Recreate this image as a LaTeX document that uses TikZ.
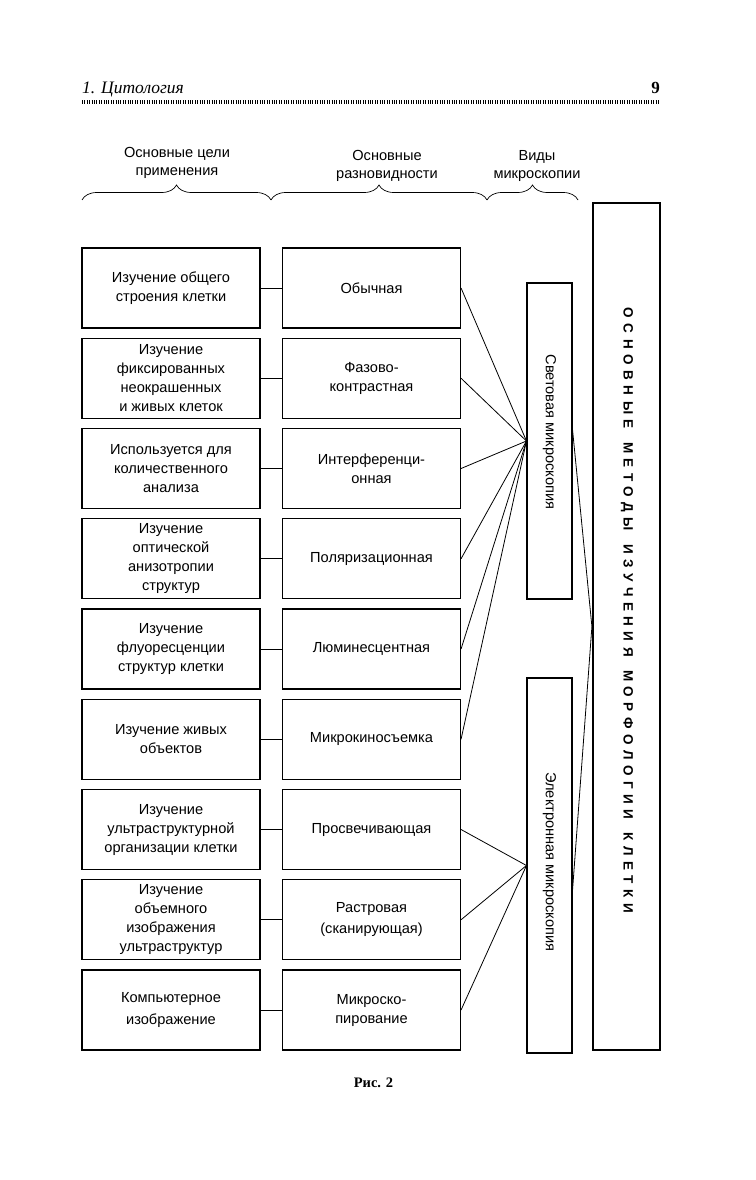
\documentclass[tikz,border=0pt]{standalone}
\usepackage{fontspec}
\setmainfont{Liberation Sans}
\newfontfamily\serifhdr{Liberation Serif}
\newfontfamily\spacedsans[LetterSpace=41]{Liberation Sans}
\usetikzlibrary{calc,decorations.pathreplacing}
\begin{document}
\begin{tikzpicture}[x=1pt,y=-1pt,
  box/.style={draw, line width=1.1pt, minimum width=178pt, minimum height=80pt, align=center, font=\fontsize{14.6}{19}\selectfont, inner sep=1pt},
  vbox/.style={draw, line width=1.1pt, minimum width=45pt, inner sep=0pt},
  conn/.style={line width=0.8pt},
  lbl/.style={align=center, font=\fontsize{14.6}{18}\selectfont},
  vtext/.style={rotate=-90, font=\fontsize{14.6}{16}\selectfont},
  brc/.style={decorate, decoration={brace, amplitude=15pt}, line width=0.7pt}]
\fill[white] (0,0) rectangle (755,1180);
\useasboundingbox (0,0) rectangle (755,1180);
% header
\node[anchor=base west, font=\serifhdr\itshape\fontsize{17.5}{17.5}\selectfont, inner sep=0] (chap) at (82,94) {1. Цитология};
\node[anchor=base east, font=\serifhdr\bfseries\fontsize{17}{17}\selectfont, inner sep=0] (pg) at (660,94) {9};
\draw[line width=4.5pt, dash pattern=on 1pt off 1.4pt] (82,102) -- (660,102);
% column labels
\node[lbl] (l1) at (177,163) {Основные цели\\применения};
\node[lbl] (l2) at (387,166) {Основные\\разновидности};
\node[lbl] (l3) at (537,166) {Виды\\микроскопии};
\draw[brc] (82,200) -- (271,200);
\draw[brc] (271,200) -- (487,200);
\draw[brc] (487,200) -- (578,200);
% left boxes
\node[box] (a1) at (171,288) {Изучение общего\\строения клетки};
\node[box] (a2) at (171,378.25) {Изучение\\фиксированных\\неокрашенных\\и живых клеток};
\node[box] (a3) at (171,468.5) {Используется для\\количественного\\анализа};
\node[box] (a4) at (171,558.75) {Изучение\\оптической\\анизотропии\\структур};
\node[box] (a5) at (171,649) {Изучение\\флуоресценции\\структур клетки};
\node[box] (a6) at (171,739.25) {Изучение живых\\объектов};
\node[box] (a7) at (171,829.5) {Изучение\\ультраструктурной\\организации клетки};
\node[box] (a8) at (171,919.75) {Изучение\\объемного\\изображения\\ультраструктур};
\node[box] (a9) at (171,1010) {Компьютерное\\[3pt]изображение};
% middle boxes
\node[box] (b1) at (371.5,288) {Обычная};
\node[box] (b2) at (371.5,378.25) {Фазово-\\контрастная};
\node[box] (b3) at (371.5,468.5) {Интерференци-\\онная};
\node[box] (b4) at (371.5,558.75) {Поляризационная};
\node[box] (b5) at (371.5,649) {Люминесцентная};
\node[box] (b6) at (371.5,739.25) {Микрокиносъемка};
\node[box] (b7) at (371.5,829.5) {Просвечивающая};
\node[box] (b8) at (371.5,919.75) {Растровая\\[2pt](сканирующая)};
\node[box] (b9) at (371.5,1010) {Микроско-\\пирование};
% microscopy type boxes
\node[vbox, minimum height=316pt] (light) at (549.5,441) {};
\node[vtext] (lighttxt) at (549.5,432) {Световая микроскопия};
\node[vbox, minimum height=375pt] (elec) at (549.5,865.5) {};
\node[vtext] (electxt) at (549.5,862) {Электронная микроскопия};
% big box
\node[draw, line width=2.2pt, minimum width=67pt, minimum height=847pt, inner sep=0pt] (big) at (626.5,626.5) {};
\node[rotate=-90, font=\spacedsans\bfseries\fontsize{13.5}{14}\selectfont] (bigtxt) at (627,610.5) {ОСНОВНЫЕ\hspace{4pt} МЕТОДЫ\hspace{4pt} ИЗУЧЕНИЯ\hspace{4pt} МОРФОЛОГИИ\hspace{4pt} КЛЕТКИ};
% connectors
\foreach \i in {1,...,9} { \draw[conn] (a\i) -- (b\i); }
\foreach \i in {1,...,6} { \draw[conn] (b\i.east) -- (light.west); }
\foreach \i in {7,8,9} { \draw[conn] (b\i.east) -- (elec.west); }
\draw[conn] ($(light.north east)!0.465!(light.south east)$) -- (big.west);
\draw[conn] ($(elec.north east)!0.565!(elec.south east)$) -- (big.west);
% caption
\node[font=\serifhdr\bfseries\fontsize{14.5}{14.5}\selectfont] (cap) at (373.5,1083) {Рис. 2};
\end{tikzpicture}
\end{document}
